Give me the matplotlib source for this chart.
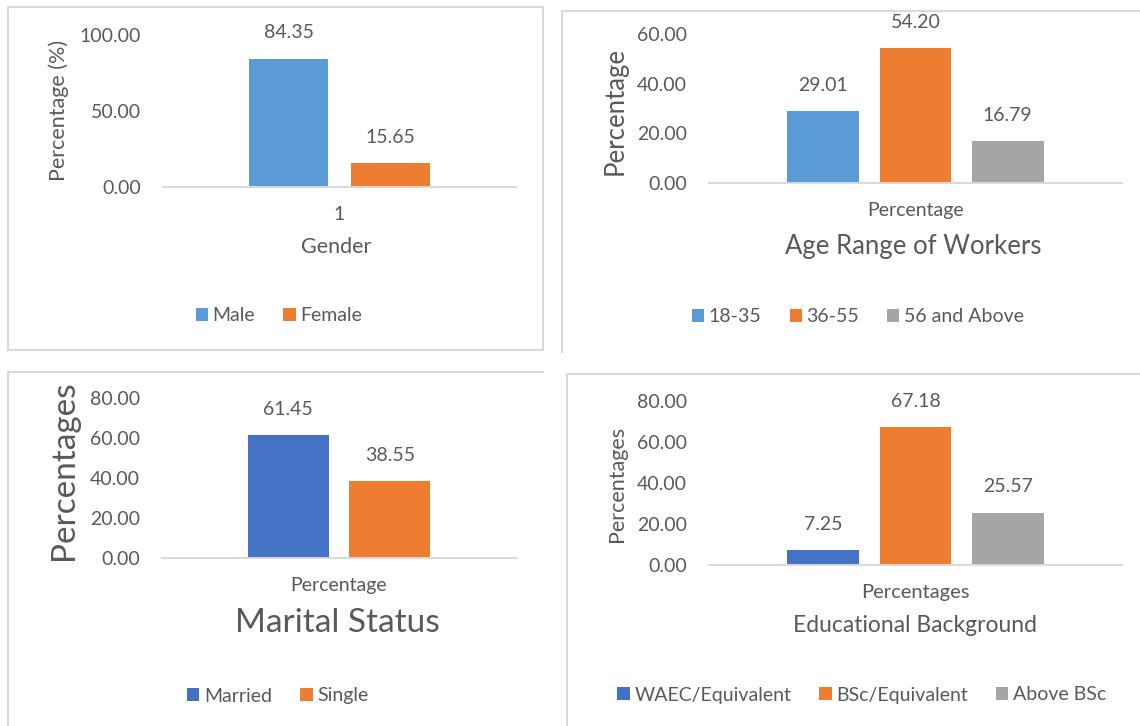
import matplotlib
matplotlib.use("Agg")
import matplotlib.pyplot as plt
from matplotlib.lines import Line2D
from matplotlib.ticker import FormatStrFormatter

# Survey results (percent of respondents)
gender_labels = ["Male", "Female"]
gender_values = [84.35, 15.65]

age_labels = ["18-35", "36-55", "56 and Above"]
age_values = [29.01, 54.20, 16.79]

marital_labels = ["Married", "Single"]
marital_values = [61.45, 38.55]

edu_labels = ["WAEC/Equivalent", "BSc/Equivalent", "Above BSc"]
edu_values = [7.25, 67.18, 25.57]

BLUE = "#5B9BD5"
DARK_BLUE = "#4472C4"
ORANGE = "#ED7D31"
GREY = "#A5A5A5"
TEXT = "#595959"
LINE = "#D9D9D9"

plt.rcParams["font.family"] = ["Lato", "DejaVu Sans"]
plt.rcParams["text.color"] = TEXT

W, H = 1140, 726
fig = plt.figure(figsize=(W / 100, H / 100), dpi=100)


def fx(px):
    return px / W


def fy(py):
    return 1 - py / H


def border(x0, y0, x1, y1):
    fig.add_artist(Line2D([fx(x0), fx(x1)], [fy(y0), fy(y1)],
                          transform=fig.transFigure, color=LINE, lw=1.5))


def panel(box, values, labels, colors, ymax, ystep, tick_label, step, width,
          ylabel, ylabel_xy, ylabel_size, title, title_xy, title_size,
          legend_xy, tick_size=14):
    L, T, R, B = box
    ax = fig.add_axes([fx(L), fy(B), (R - L) / W, (B - T) / H])
    n = len(values)
    for i, (v, lab, c) in enumerate(zip(values, labels, colors)):
        off = (i - (n - 1) / 2) * step
        bars = ax.bar([off], [v], width=width, color=c, label=lab)
        ax.bar_label(bars, fmt="%.2f", padding=12.5, fontsize=14, color=TEXT)
    ax.set_xlim(-0.5, 0.5)
    ax.set_ylim(0, ymax)
    ax.set_yticks([ystep * k for k in range(int(ymax / ystep) + 1)])
    ax.yaxis.set_major_formatter(FormatStrFormatter("%.2f"))
    ax.set_xticks([0])
    ax.set_xticklabels([tick_label])
    ax.tick_params(axis="y", length=0, pad=16, labelsize=14, labelcolor=TEXT)
    ax.tick_params(axis="x", length=0, pad=14, labelsize=tick_size, labelcolor=TEXT)
    for s in ("left", "right", "top"):
        ax.spines[s].set_visible(False)
    ax.spines["bottom"].set_color(LINE)
    ax.spines["bottom"].set_linewidth(1.4)
    ax.patch.set_alpha(0)

    fig.text(fx(ylabel_xy[0]), fy(ylabel_xy[1]), ylabel, rotation=90,
             ha="center", va="center", fontsize=ylabel_size, color=TEXT)
    fig.text(fx(title_xy[0]), fy(title_xy[1]), title,
             ha="center", va="center", fontsize=title_size, color=TEXT)
    fig.legend(*ax.get_legend_handles_labels(), loc="center",
               bbox_to_anchor=(fx(legend_xy[0]), fy(legend_xy[1])),
               ncol=n, frameon=False, fontsize=14, handlelength=0.62,
               handleheight=0.62, handletextpad=0.25, columnspacing=1.45,
               borderpad=0, labelcolor=TEXT)
    return ax


# panel frames
border(8, 7, 543, 7)
border(8, 350, 543, 350)
border(8, 7, 8, 350)
border(543, 7, 543, 350)
border(562, 11, 1140, 11)
border(562, 11, 562, 352)
border(8, 372, 543, 372)
border(8, 372, 8, 726)
border(567, 374, 1140, 374)
border(567, 374, 567, 726)

panel((163, 35, 516, 187), gender_values, gender_labels, [BLUE, ORANGE],
      100, 50, "1", 0.287, 0.224,
      "Percentage (%)", (59, 110), 15.5, "Gender", (336, 247), 15.5,
      (279, 316))

panel((709, 34, 1122, 183), age_values, age_labels, [BLUE, ORANGE, GREY],
      60, 20, "Percentage", 0.223, 0.174,
      "Percentage", (615, 111), 18.5, "Age Range of Workers", (913, 247), 18.5,
      (858, 317))

panel((162, 398, 516, 558), marital_values, marital_labels, [DARK_BLUE, ORANGE],
      80, 20, "Percentage", 0.287, 0.229,
      "Percentages", (64, 470), 24, "Marital Status", (337, 623), 24,
      (278, 696))

panel((709, 401, 1122, 565), edu_values, edu_labels, [DARK_BLUE, ORANGE, GREY],
      80, 20, "Percentages", 0.223, 0.174,
      "Percentages", (617, 484), 15.5, "Educational Background", (915, 626), 16.5,
      (862, 695), tick_size=14.5)

fig.savefig("out.png", dpi=100)
